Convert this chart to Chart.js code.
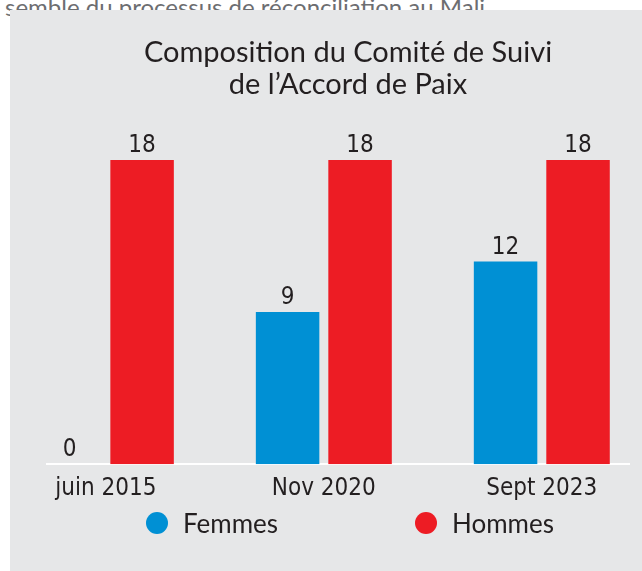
<!DOCTYPE html>
<html>
<head>
<meta charset="utf-8">
<script src="https://cdn.jsdelivr.net/npm/chart.js@4.4.0/dist/chart.umd.min.js"></script>
<style>
    body { margin: 0; background: #fff; overflow: hidden; width: 642px; height: 571px; position: relative; }
    #intro { position: absolute; left: 5px; top: -5px; font: 24px/24px Lato, sans-serif; color: #6d6e71; white-space: nowrap; }
    #panel { position: absolute; left: 10px; top: 10px; right: 0; bottom: 0; background: #e6e7e8; }
    #myChart { position: absolute; left: 0; top: 0; }
    #legend { position: absolute; left: 146px; top: 510px; height: 26px; display: flex; align-items: center; font: 26px/26px Lato, sans-serif; color: #231f20; }
    .item { display: flex; align-items: center; width: 269px; }
    .dot { width: 22px; height: 22px; border-radius: 50%; margin-right: 15px; }
</style>
</head>
<body>
<div id="intro">semble du processus de réconciliation au Mali</div>
<div id="panel"></div>
<canvas id="myChart" width="649" height="513"></canvas>
<div id="legend"></div>
<script>
const categories = ['juin 2015', 'Nov 2020', 'Sept 2023'];
const femmes = [0, 9, 12];
const hommes = [18, 18, 18];
const seriesNames = ['Femmes', 'Hommes'];
const seriesColors = ['#0090d4', '#ed1c24'];

const narrow = "'Liberation Sans Narrow', 'DejaVu Sans Condensed', sans-serif";
const ink = '#231f20';

// numbers above the bars
const valueLabels = {
    id: 'valueLabels',
    afterDatasetsDraw(chart) {
        const ctx = chart.ctx;
        ctx.save();
        ctx.font = '24px ' + narrow;
        ctx.fillStyle = ink;
        ctx.textAlign = 'center';
        ctx.textBaseline = 'middle';
        chart.data.datasets.forEach((ds, i) => {
            chart.getDatasetMeta(i).data.forEach((bar, j) => {
                ctx.fillText(ds.data[j].y, bar.x, bar.y - 14);
            });
        });
        ctx.restore();
    }
};

const datasets = [femmes, hommes].map((values, i) => ({
    label: seriesNames[i],
    data: values.map((v, j) => ({ x: j, y: v })),
    backgroundColor: seriesColors[i],
    borderWidth: 0,
    categoryPercentage: 0.665,
    barPercentage: 0.876
}));

const ctx = document.getElementById('myChart').getContext('2d');
const myChart = new Chart(ctx, {
    type: 'bar',
    data: { datasets: datasets },
    options: {
        responsive: false,
        animation: false,
        layout: { padding: { left: 47, right: 0, top: 0, bottom: 0 } },
        plugins: {
            legend: { display: false },
            tooltip: { enabled: false },
            title: {
                display: true,
                text: ['Composition du Comité de Suivi', 'de l\u2019Accord de Paix'],
                color: ink,
                font: { family: 'Lato', size: 29, weight: 'normal', lineHeight: '32px' },
                padding: { top: 37, bottom: 59 }
            }
        },
        scales: {
            x: {
                type: 'linear',
                offset: false,
                bounds: 'data',
                min: -0.27,
                max: 2.4,
                // one tick per category
                afterBuildTicks: s => { s.ticks = categories.map((c, i) => ({ value: i })); },
                grid: { display: false, drawTicks: false, offset: false },
                border: { display: true, color: '#ffffff', width: 2 },
                ticks: {
                    autoSkip: false,
                    maxRotation: 0,
                    padding: 10,
                    color: ink,
                    font: { family: narrow, size: 24 },
                    callback: v => categories[v] ?? ''
                }
            },
            y: { min: 0, max: 18, display: false },
            spacer: {
                axis: 'y',
                type: 'linear',
                position: 'right',
                grid: { display: false, drawTicks: false },
                border: { display: false },
                ticks: { display: false },
                afterFit: s => { s.width = 20; }
            }
        }
    },
    plugins: [valueLabels]
});

const legend = document.getElementById('legend');
myChart.data.datasets.forEach(ds => {
    const item = document.createElement('div');
    item.className = 'item';
    const dot = document.createElement('span');
    dot.className = 'dot';
    dot.style.background = ds.backgroundColor;
    const text = document.createElement('span');
    text.innerText = ds.label;
    item.appendChild(dot);
    item.appendChild(text);
    legend.appendChild(item);
});
</script>
</body>
</html>
